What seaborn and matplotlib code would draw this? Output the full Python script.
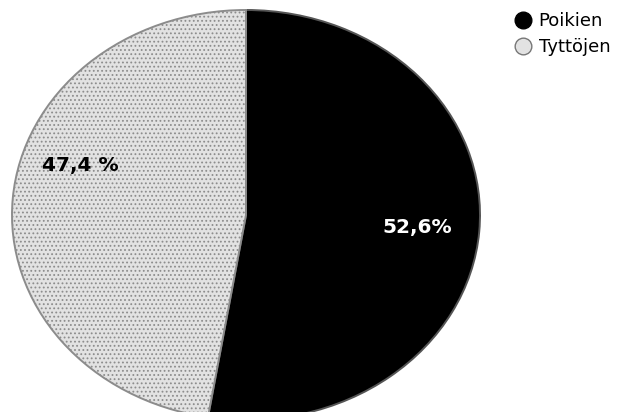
import matplotlib
matplotlib.use("Agg")
import matplotlib.pyplot as plt
from matplotlib.lines import Line2D
import seaborn as sns

# share of boys / girls
groups = ["Poikien", "Tyttöjen"]
shares = [52.6, 47.4]
pct_labels = ["52,6%", "47,4 %"]

sns.set_style("white")
plt.rcParams["font.family"] = ["DejaVu Sans"]
plt.rcParams["hatch.linewidth"] = 0.8

fig = plt.figure(figsize=(6.4, 4.12), dpi=100)
ax = fig.add_axes([12 / 640, -8 / 412, 468 / 640, 410 / 412])

wedges, _ = ax.pie(shares, startangle=90, counterclock=False,
                   colors=["#000000", "#e2e2e2"],
                   wedgeprops=dict(linewidth=1.4, edgecolor="#555555"))
wedges[1].set_hatch("....")
wedges[1].set_edgecolor("#8c8c8c")
ax.set_aspect("auto")
ax.set_xlim(-1, 1)
ax.set_ylim(-1, 1)
ax.axis("off")

ax.text(0.73, -0.06, pct_labels[0], color="white", fontsize=14.5,
        fontweight="bold", ha="center", va="center")
ax.text(-0.71, 0.24, pct_labels[1], color="black", fontsize=14.5,
        fontweight="bold", ha="center", va="center")

handles = [
    Line2D([], [], marker="o", linestyle="", markersize=12,
           markerfacecolor="#000000", markeredgecolor="#000000"),
    Line2D([], [], marker="o", linestyle="", markersize=12,
           markerfacecolor="#e2e2e2", markeredgecolor="#777777"),
]
leg = fig.legend(handles, groups, loc="upper left",
                 bbox_to_anchor=(508 / 640, 1 - 5 / 412), frameon=False,
                 fontsize=13, handlelength=0.9, handletextpad=0.4,
                 labelspacing=0.45, borderaxespad=0)
for t in leg.get_texts():
    t.set_color("black")

fig.savefig("out.png", dpi=100)
